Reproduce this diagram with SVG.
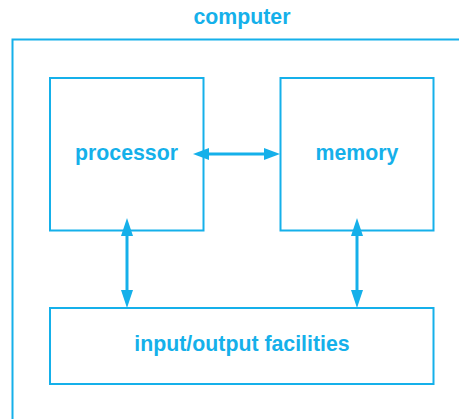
<svg xmlns="http://www.w3.org/2000/svg" width="459" height="419" viewBox="0 0 459 419">
<style>
.box{fill:none;stroke:#15b0ea;stroke-width:2}
.lbl{font-family:"Liberation Sans",Arial,sans-serif;font-weight:bold;font-size:21.3px;fill:#15b0ea;text-anchor:middle}
.con{stroke:#15b0ea;stroke-width:3;fill:none}
.head{fill:#15b0ea}
</style>
<rect width="459" height="419" fill="#fff"/>
<g id="computer">
<text class="lbl" x="242" y="24">computer</text>
<path class="box" d="M462,39.5 H12.5 V422"/>
</g>
<g id="processor">
<rect class="box" x="50" y="78" width="153.5" height="152.5"/>
<text class="lbl" x="126.5" y="160">processor</text>
</g>
<g id="memory">
<rect class="box" x="280.5" y="78" width="153" height="152.5"/>
<text class="lbl" x="357" y="160">memory</text>
</g>
<g id="io">
<rect class="box" x="50" y="308" width="383.5" height="76"/>
<text class="lbl" x="242" y="351">input/output facilities</text>
</g>
<g id="connectors">
<line class="con" x1="205" y1="154" x2="266" y2="154"/>
<polygon class="head" points="193,154 209,148 209,160"/>
<polygon class="head" points="280,154 264,148 264,160"/>
<line class="con" x1="127" y1="232" x2="127" y2="294"/>
<polygon class="head" points="127,218 121,236 133,236"/>
<polygon class="head" points="127,308 121,290 133,290"/>
<line class="con" x1="357" y1="232" x2="357" y2="294"/>
<polygon class="head" points="357,218 351,236 363,236"/>
<polygon class="head" points="357,308 351,290 363,290"/>
</g>
</svg>
